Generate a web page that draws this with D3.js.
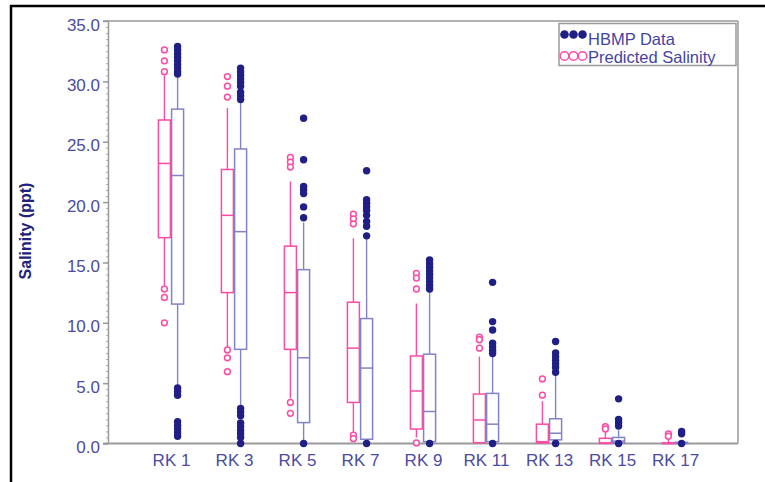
<!DOCTYPE html>
<html><head><meta charset="utf-8">
<script src="https://cdn.jsdelivr.net/npm/d3@7"></script>
<style>
html,body{margin:0;padding:0;background:#fff;}
svg{display:block;font-family:Arial,"Liberation Sans",sans-serif;}
</style></head>
<body>
<svg id="chart" width="765" height="482"></svg>
<script>
const categories = ["RK 1","RK 3","RK 5","RK 7","RK 9","RK 11","RK 13","RK 15","RK 17"];
const yTicks = [0,5,10,15,20,25,30,35];

// Predicted Salinity box statistics
const predLow  = [13.1, 8.0, 3.75, 0.85, 0.5, 0.0, 0.0, 0.0, 0.0];
const predQ1   = [17.05, 12.5, 7.8, 3.4, 1.2, 0.07, 0.05, 0.0, 0.0];
const predMed  = [23.2, 18.9, 12.5, 7.9, 4.35, 1.95, 0.15, 0.05, 0.0];
const predQ3   = [26.8, 22.7, 16.35, 11.7, 7.25, 4.1, 1.6, 0.43, 0.05];
const predHigh = [30.5, 27.8, 21.7, 17.0, 11.6, 7.2, 3.5, 0.95, 0.3];
const predOut  = [
  [32.6, 31.7, 30.8, 12.8, 12.1, 10.0],
  [30.4, 29.6, 28.7, 7.75, 7.1, 5.95],
  [23.7, 23.3, 22.9, 3.4, 2.5],
  [19.0, 18.6, 18.2, 0.7, 0.4],
  [14.1, 13.7, 12.8, 0.05],
  [8.8, 8.6, 7.9],
  [5.35, 4.0],
  [1.4, 1.2],
  [0.8, 0.6]
];

// HBMP Data box statistics
const hbmpLow  = [4.8, 3.2, 0.1, 0.2, 0.1, 0.1, 0.1, 0.0, 0.0];
const hbmpQ1   = [11.55, 7.8, 1.73, 0.35, 0.15, 0.15, 0.3, 0.05, 0.0];
const hbmpMed  = [22.2, 17.55, 7.1, 6.25, 2.65, 1.6, 0.85, 0.2, 0.05];
const hbmpQ3   = [27.7, 24.4, 14.4, 10.35, 7.4, 4.15, 2.05, 0.5, 0.1];
const hbmpHigh = [30.4, 28.2, 18.3, 17.0, 12.6, 7.3, 5.7, 1.1, 0.2];
const hbmpOut  = [
  [32.9, 32.6, 32.3, 32.0, 31.7, 31.4, 31.1, 30.8, 30.6, 4.6, 4.3, 4.0, 1.8, 1.5, 1.2, 0.9, 0.6],
  [31.1, 30.8, 30.5, 30.2, 29.9, 29.6, 29.1, 28.8, 28.5, 2.9, 2.6, 2.3, 1.7, 1.4, 1.1, 0.8, 0.5, 0.0],
  [26.95, 23.5, 21.3, 21.0, 20.7, 19.6, 18.7, 0.0],
  [22.6, 20.2, 19.9, 19.6, 19.3, 18.9, 18.4, 18.0, 17.2, 0.0],
  [15.2, 14.9, 14.6, 14.3, 14.0, 13.7, 13.4, 13.1, 12.8, 0.0],
  [13.35, 10.1, 9.4, 8.3, 8.0, 7.7, 7.45, 0.0],
  [8.45, 7.5, 7.2, 6.9, 6.6, 6.3, 5.9, 0.0],
  [3.7, 2.0, 1.75, 1.45, 0.0],
  [1.0, 0.8, 0.0]
];

const seriesNames = ["HBMP Data", "Predicted Salinity"];

const PINK = "#ff4aa5", LAV = "#8282c8", NAVY = "#1f1f85", LABEL = "#4b4ba0", GREY = "#9a9a9a";

const svg = d3.select("#chart");
const L = 108, R = 738, T = 21, B = 443.5;

const x = d3.scalePoint().domain(categories).range([L, R]).padding(1);
const y = d3.scaleLinear().domain([0, 35]).range([B, T]);
const boxW = 12, off = 6.6;

// outer black frame
svg.append("line").attr("x1", 10).attr("x2", 765).attr("y1", 6).attr("y2", 6).attr("stroke", "#000").attr("stroke-width", 2.5);
svg.append("line").attr("x1", 11).attr("x2", 11).attr("y1", 5).attr("y2", 482).attr("stroke", "#000").attr("stroke-width", 2.5);

// plot frame
svg.append("line").attr("x1", L - 5).attr("x2", R).attr("y1", T).attr("y2", T).attr("stroke", GREY).attr("stroke-width", 1.5);
svg.append("line").attr("x1", R).attr("x2", R).attr("y1", T).attr("y2", B).attr("stroke", GREY).attr("stroke-width", 1.5);

// minor ticks
const minor = svg.append("g").attr("transform", `translate(${L},0)`)
  .call(d3.axisLeft(y).tickValues(d3.range(0, 35.001, 0.5)).tickSize(2).tickFormat(""));
minor.select(".domain").remove();
minor.selectAll("line").attr("stroke", "#aaa").attr("stroke-width", 1);

// y axis
const yAxis = svg.append("g").attr("transform", `translate(${L},0)`)
  .call(d3.axisLeft(y).tickValues(yTicks).tickSize(5).tickSizeOuter(0).tickFormat(d3.format(".1f")));
yAxis.select(".domain").attr("stroke", GREY).attr("stroke-width", 1.5);
yAxis.selectAll(".tick line").attr("stroke", GREY).attr("stroke-width", 1.5);
yAxis.selectAll("text").attr("fill", LABEL).attr("font-size", "17px").attr("dy", "0.53em").attr("x", -8)
  .attr("font-family", "Arial, 'Liberation Sans', sans-serif");

// x axis
const xAxis = svg.append("g").attr("transform", `translate(0,${B})`)
  .call(d3.axisBottom(x).tickSize(0).tickSizeOuter(0));
xAxis.select(".domain").remove();
xAxis.selectAll("text").attr("fill", LABEL).attr("font-size", "17px").attr("y", 10).attr("dy", "0.71em")
  .attr("font-family", "Arial, 'Liberation Sans', sans-serif");

svg.append("line").attr("x1", L - 5).attr("x2", R).attr("y1", B).attr("y2", B).attr("stroke", GREY).attr("stroke-width", 2.2);

// y title
svg.append("text").attr("transform", `translate(31,231) rotate(-90)`).attr("text-anchor", "middle")
  .attr("font-size", "16px").attr("font-weight", "bold").attr("fill", "#22227a").text("Salinity (ppt)");

function drawSeries(lo, q1, med, q3, hi, outs, dx, color, filled) {
  const g = svg.append("g");
  categories.forEach((c, i) => {
    const cx = x(c) + dx;
    // whiskers
    g.append("line").attr("x1", cx).attr("x2", cx).attr("y1", y(q3[i])).attr("y2", y(hi[i]))
      .attr("stroke", color).attr("stroke-width", 1.4);
    g.append("line").attr("x1", cx).attr("x2", cx).attr("y1", y(q1[i])).attr("y2", y(lo[i]))
      .attr("stroke", color).attr("stroke-width", 1.4);
    // box
    g.append("rect").attr("x", cx - boxW / 2).attr("width", boxW)
      .attr("y", y(q3[i])).attr("height", Math.max(0.5, y(q1[i]) - y(q3[i])))
      .attr("fill", "none").attr("stroke", color).attr("stroke-width", 1.5);
    g.append("line").attr("x1", cx - boxW / 2).attr("x2", cx + boxW / 2).attr("y1", y(med[i])).attr("y2", y(med[i]))
      .attr("stroke", color).attr("stroke-width", 1.5);
    // outliers
    outs[i].forEach(v => {
      const p = g.append("circle").attr("cx", cx).attr("cy", y(v));
      if (filled) p.attr("r", 3.7).attr("fill", NAVY);
      else p.attr("r", 2.9).attr("fill", "#fff").attr("stroke", PINK).attr("stroke-width", 1.5);
    });
  });
}

drawSeries(predLow, predQ1, predMed, predQ3, predHigh, predOut, -off, PINK, false);
drawSeries(hbmpLow, hbmpQ1, hbmpMed, hbmpQ3, hbmpHigh, hbmpOut, off, LAV, true);

// legend
const lg = svg.append("g");
lg.append("rect").attr("x", 559).attr("y", 23.5).attr("width", 177).attr("height", 42)
  .attr("fill", "#fff").attr("stroke", GREY).attr("stroke-width", 1.5);
[0, 1].forEach(k => {
  const cy = k === 0 ? 34.5 : 56;
  [564.5, 573.5, 582.5].forEach(mx => {
    const c = lg.append("circle").attr("cx", mx).attr("cy", cy).attr("r", 4.3);
    if (k === 0) c.attr("fill", NAVY);
    else c.attr("fill", "#fff").attr("stroke", PINK).attr("stroke-width", 1.4);
  });
  lg.append("text").attr("x", 588).attr("y", k === 0 ? 45 : 62.5).attr("font-size", "16.5px")
    .attr("fill", "#4444a2").text(seriesNames[k]);
});
</script>
</body></html>
